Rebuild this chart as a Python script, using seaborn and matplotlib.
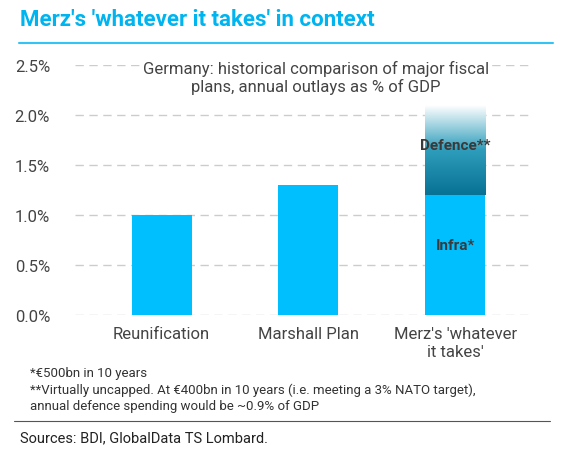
import matplotlib
matplotlib.use("Agg")
import matplotlib.pyplot as plt
import seaborn as sns
import numpy as np
import pandas as pd

categories = ["Reunification", "Marshall Plan", "Merz's 'whatever\nit takes'"]
base_values = [1.0, 1.3, 1.2]
defence_values = [0.0, 0.0, 0.9]
yticks = [0.0, 0.5, 1.0, 1.5, 2.0, 2.5]

sns.set_theme(style="white")
plt.rcParams['font.family'] = ['Roboto', 'DejaVu Sans']

fig = plt.figure(figsize=(5.64, 4.6), dpi=100)
ax = fig.add_axes([75/564, 1-316/460, 455/564, 250/460])
blue = "#00BFFF"
df = pd.DataFrame({"cat": categories, "base": base_values,
                   "top": [b + d for b, d in zip(base_values, defence_values)]})
sns.barplot(data=df, x="cat", y="top", color="white", width=0.41, ax=ax, saturation=1,
            zorder=2, linewidth=0)
sns.barplot(data=df, x="cat", y="base", color=blue, width=0.41, ax=ax, saturation=1,
            zorder=3, linewidth=0)
patches = ax.patches[:3]
for p, b, d in zip(patches, base_values, defence_values):
    if d <= 0:
        p.set_visible(False)
        continue
    x0 = p.get_x(); w = p.get_width()
    cmap = matplotlib.colors.LinearSegmentedColormap.from_list("g", ["#087194", "#2e9dbb", "#ffffff"])
    grad = np.linspace(0, 1, 256).reshape(-1, 1)
    im = ax.imshow(grad, extent=[x0, x0 + w, b, b + d], origin="lower", cmap=cmap,
                   aspect="auto", zorder=2.5)
    im.set_clip_path(p)
    ax.text(x0 + w/2, b + d*0.55, "Defence**", ha="center", va="center",
            fontsize=11, fontweight="bold", color="#3a3a3a", zorder=5)
    ax.text(x0 + w/2, b*0.58, "Infra*", ha="center", va="center",
            fontsize=11, fontweight="bold", color="#3a3a3a", zorder=5)

ax.set_xlim(-0.59, 2.51)
ax.set_ylim(0, 2.5)
ax.set_yticks(yticks)
ax.set_yticklabels([f"{v:.1f}%" for v in yticks], fontsize=12, color="#444444")
ax.tick_params(axis="x", labelsize=12, colors="#444444", length=0, pad=8)
ax.tick_params(axis="y", length=0, pad=18)
ax.set_xlabel(""); ax.set_ylabel("")
for s in ax.spines.values():
    s.set_visible(False)
ax.grid(axis="y", color="#cccccc", linestyle=(0, (6, 4)), linewidth=1, zorder=0)
ax.set_axisbelow(True)
ax.text(1.05, 2.38, "Germany: historical comparison of major fiscal\nplans, annual outlays as % of GDP",
        ha="center", va="center", fontsize=12, color="#444444", zorder=6,
        bbox=dict(facecolor="white", edgecolor="none", pad=1))

fig.text(20/564, 1-20/460, "Merz's 'whatever it takes' in context", fontsize=16,
         fontweight="bold", color="#00B4F0", va="center")
fig.add_artist(plt.Line2D([19/564, 553/564], [1-44/460]*2, color="#33c3f5", lw=1.5))
fig.text(30/564, 1-367/460, "*€500bn in 10 years\n**Virtually uncapped. At €400bn in 10 years (i.e. meeting a 3% NATO target),\nannual defence spending would be ~0.9% of GDP",
         fontsize=9.5, color="#333333", va="top", linespacing=1.3)
fig.add_artist(plt.Line2D([14/564, 550/564], [1-422/460]*2, color="#555555", lw=0.8))
fig.text(20/564, 1-438/460, "Sources: BDI, GlobalData TS Lombard.", fontsize=10.5,
         color="#222222", va="center")
fig.savefig("out.png", dpi=100)
